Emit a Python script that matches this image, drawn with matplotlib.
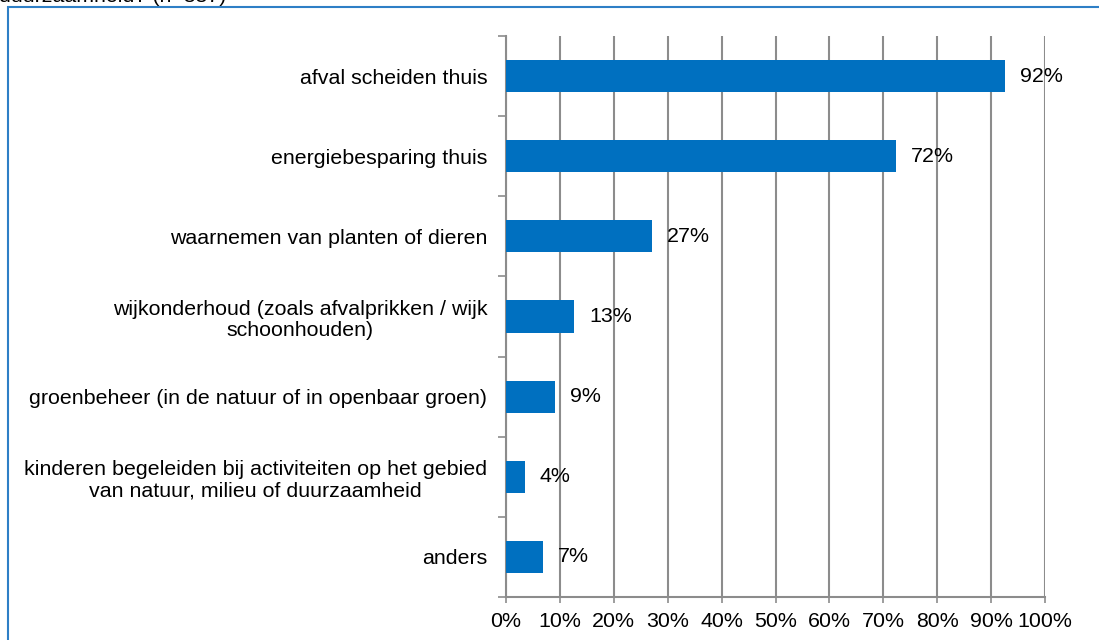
import matplotlib
matplotlib.use("Agg")
import matplotlib.pyplot as plt
from matplotlib.patches import Rectangle

plt.rcParams['font.family'] = ['Liberation Sans', 'DejaVu Sans']

categories = [
    "afval scheiden thuis",
    "energiebesparing thuis",
    "waarnemen van planten of dieren",
    "wijkonderhoud (zoals afvalprikken / wijk\nschoonhouden)",
    "groenbeheer (in de natuur of in openbaar groen)",
    "kinderen begeleiden bij activiteiten op het gebied\nvan natuur, milieu of duurzaamheid",
    "anders",
]
values = [92.6, 72.3, 27.0, 12.6, 9.1, 3.5, 6.9]
value_labels = ["92%", "72%", "27%", "13%", "9%", "4%", "7%"]
xticks = [0, 10, 20, 30, 40, 50, 60, 70, 80, 90, 100]
xticklabels = [f"{t}%" for t in xticks]
title_text = "duurzaamheid? (n=887)"

FS = 15.4
W, H = 1099, 640
fig = plt.figure(figsize=(W / 100, H / 100), dpi=100)

# outer frame
frame = Rectangle((8 / W, -0.05), 1.1, (H - 7) / H + 0.05, transform=fig.transFigure,
                  fill=False, edgecolor='#2E7FC6', linewidth=1.5, zorder=0)
fig.patches.append(frame)
fig.text(-0.001, 1 - 1.5 / H, title_text, fontsize=FS, ha='left', va='baseline', color='black')

ax = fig.add_axes([506 / W, 1 - 597 / H, (1045 - 506) / W, (597 - 36) / H])
n = len(categories)
ypos = list(range(n))
ax.barh(ypos, values, height=0.4, color='#0070C0', zorder=3)
ax.set_ylim(n - 0.5, -0.5)
ax.set_xlim(0, 100)

for y, v, lab in zip(ypos, values, value_labels):
    ax.annotate(lab, (v, y), xytext=(15, 0), textcoords='offset pixels',
                ha='left', va='center', fontsize=FS, color='black', zorder=4)

ax.set_xticks(xticks)
ax.set_xticklabels(xticklabels, fontsize=FS)
ax.xaxis.grid(True, color='#8C8C8C', linewidth=1.5, zorder=0)
ax.set_axisbelow(True)

ax.set_yticks([i - 0.5 for i in range(n + 1)], minor=False)
ax.set_yticklabels([])
ax.set_yticks(ypos, minor=True)
ax.set_yticklabels(categories, minor=True, fontsize=FS, linespacing=1.15,
                   multialignment='center')
ax.tick_params(axis='y', which='minor', length=0, pad=13.5)
ax.tick_params(axis='y', which='major', length=6, width=1.2, color='#8C8C8C', direction='out')
ax.tick_params(axis='x', length=4.5, width=1.2, color='#8C8C8C', pad=6)

for s in ['top', 'right']:
    ax.spines[s].set_visible(False)
ax.spines['left'].set_color('#8C8C8C')
ax.spines['left'].set_linewidth(1.5)
ax.spines['bottom'].set_color('#8C8C8C')
ax.spines['bottom'].set_linewidth(1.5)
ax.patch.set_alpha(0)

fig.savefig('out.png', dpi=100)
